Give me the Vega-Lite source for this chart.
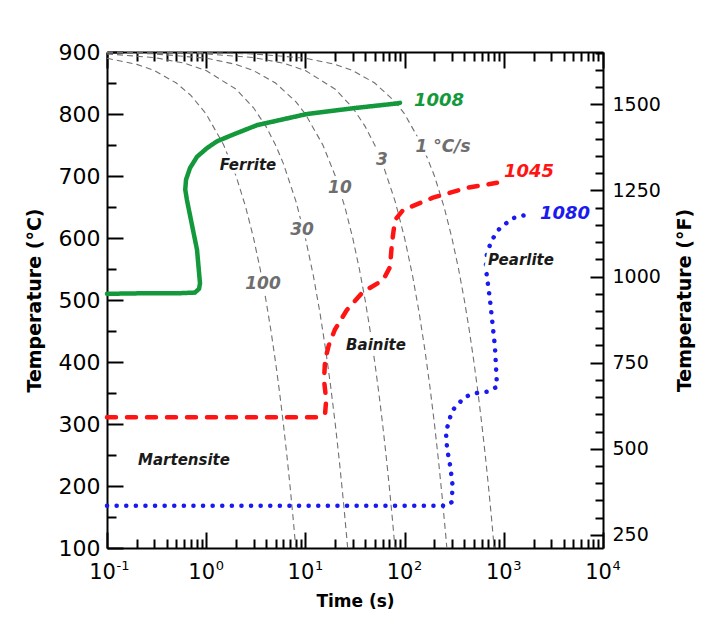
{
  "$schema": "https://vega.github.io/schema/vega-lite/v6.json",
  "width": 496,
  "height": 496,
  "autosize": {"type": "none"},
  "padding": {"left": 107, "top": 52, "right": 101, "bottom": 77},
  "background": "white",
  "config": {
    "view": {"stroke": null},
    "font": "DejaVu Sans",
    "axis": {"domainColor": "black", "domainWidth": 2, "tickColor": "black", "tickWidth": 2, "labelColor": "black", "titleColor": "black", "grid": false, "labelFont": "DejaVu Sans", "titleFont": "DejaVu Sans"}
  },
  "datasets": {
    "cooling": [
      {"rate": "100", "t": 0.1, "T": 890}, {"rate": "100", "t": 0.2, "T": 880}, {"rate": "100", "t": 0.3, "T": 870}, {"rate": "100", "t": 0.5, "T": 850}, {"rate": "100", "t": 0.7, "T": 830}, {"rate": "100", "t": 1, "T": 800}, {"rate": "100", "t": 1.5, "T": 750}, {"rate": "100", "t": 2, "T": 700}, {"rate": "100", "t": 2.5, "T": 650}, {"rate": "100", "t": 3, "T": 600}, {"rate": "100", "t": 3.5, "T": 550}, {"rate": "100", "t": 4, "T": 500}, {"rate": "100", "t": 4.5, "T": 450}, {"rate": "100", "t": 5, "T": 400}, {"rate": "100", "t": 5.5, "T": 350}, {"rate": "100", "t": 6, "T": 300}, {"rate": "100", "t": 6.5, "T": 250}, {"rate": "100", "t": 7, "T": 200}, {"rate": "100", "t": 7.5, "T": 150}, {"rate": "100", "t": 8, "T": 100},
      {"rate": "30", "t": 0.1, "T": 897}, {"rate": "30", "t": 0.3, "T": 891}, {"rate": "30", "t": 0.6, "T": 882}, {"rate": "30", "t": 1, "T": 870}, {"rate": "30", "t": 2, "T": 840}, {"rate": "30", "t": 3, "T": 810}, {"rate": "30", "t": 4, "T": 780}, {"rate": "30", "t": 5, "T": 750}, {"rate": "30", "t": 6, "T": 720}, {"rate": "30", "t": 8, "T": 660}, {"rate": "30", "t": 10, "T": 600}, {"rate": "30", "t": 12, "T": 540}, {"rate": "30", "t": 14, "T": 480}, {"rate": "30", "t": 16, "T": 420}, {"rate": "30", "t": 18, "T": 360}, {"rate": "30", "t": 20, "T": 300}, {"rate": "30", "t": 22, "T": 240}, {"rate": "30", "t": 24, "T": 180}, {"rate": "30", "t": 26, "T": 120}, {"rate": "30", "t": 26.67, "T": 100},
      {"rate": "10", "t": 0.1, "T": 899}, {"rate": "10", "t": 0.3, "T": 897}, {"rate": "10", "t": 1, "T": 890}, {"rate": "10", "t": 2, "T": 880}, {"rate": "10", "t": 3, "T": 870}, {"rate": "10", "t": 5, "T": 850}, {"rate": "10", "t": 8, "T": 820}, {"rate": "10", "t": 10, "T": 800}, {"rate": "10", "t": 15, "T": 750}, {"rate": "10", "t": 20, "T": 700}, {"rate": "10", "t": 25, "T": 650}, {"rate": "10", "t": 30, "T": 600}, {"rate": "10", "t": 35, "T": 550}, {"rate": "10", "t": 40, "T": 500}, {"rate": "10", "t": 45, "T": 450}, {"rate": "10", "t": 50, "T": 400}, {"rate": "10", "t": 55, "T": 350}, {"rate": "10", "t": 60, "T": 300}, {"rate": "10", "t": 65, "T": 250}, {"rate": "10", "t": 70, "T": 200}, {"rate": "10", "t": 75, "T": 150}, {"rate": "10", "t": 80, "T": 100},
      {"rate": "3", "t": 0.1, "T": 899.7}, {"rate": "3", "t": 1, "T": 897}, {"rate": "3", "t": 3, "T": 891}, {"rate": "3", "t": 6, "T": 882}, {"rate": "3", "t": 10, "T": 870}, {"rate": "3", "t": 20, "T": 840}, {"rate": "3", "t": 30, "T": 810}, {"rate": "3", "t": 40, "T": 780}, {"rate": "3", "t": 50, "T": 750}, {"rate": "3", "t": 60, "T": 720}, {"rate": "3", "t": 80, "T": 660}, {"rate": "3", "t": 100, "T": 600}, {"rate": "3", "t": 120, "T": 540}, {"rate": "3", "t": 140, "T": 480}, {"rate": "3", "t": 160, "T": 420}, {"rate": "3", "t": 180, "T": 360}, {"rate": "3", "t": 200, "T": 300}, {"rate": "3", "t": 220, "T": 240}, {"rate": "3", "t": 240, "T": 180}, {"rate": "3", "t": 260, "T": 120}, {"rate": "3", "t": 266.7, "T": 100},
      {"rate": "1", "t": 0.1, "T": 899.9}, {"rate": "1", "t": 1, "T": 899}, {"rate": "1", "t": 3, "T": 897}, {"rate": "1", "t": 10, "T": 890}, {"rate": "1", "t": 20, "T": 880}, {"rate": "1", "t": 30, "T": 870}, {"rate": "1", "t": 50, "T": 850}, {"rate": "1", "t": 80, "T": 820}, {"rate": "1", "t": 100, "T": 800}, {"rate": "1", "t": 150, "T": 750}, {"rate": "1", "t": 200, "T": 700}, {"rate": "1", "t": 250, "T": 650}, {"rate": "1", "t": 300, "T": 600}, {"rate": "1", "t": 350, "T": 550}, {"rate": "1", "t": 400, "T": 500}, {"rate": "1", "t": 450, "T": 450}, {"rate": "1", "t": 500, "T": 400}, {"rate": "1", "t": 550, "T": 350}, {"rate": "1", "t": 600, "T": 300}, {"rate": "1", "t": 650, "T": 250}, {"rate": "1", "t": 700, "T": 200}, {"rate": "1", "t": 750, "T": 150}, {"rate": "1", "t": 800, "T": 100}
    ],
    "cct": [
      {"steel": "1008", "i": 1, "t": 0.1, "T": 510}, {"steel": "1008", "i": 2, "t": 0.271, "T": 511}, {"steel": "1008", "i": 3, "t": 0.55, "T": 511}, {"steel": "1008", "i": 4, "t": 0.77, "T": 512}, {"steel": "1008", "i": 5, "t": 0.847, "T": 518}, {"steel": "1008", "i": 6, "t": 0.866, "T": 527}, {"steel": "1008", "i": 7, "t": 0.808, "T": 581}, {"steel": "1008", "i": 8, "t": 0.64, "T": 661}, {"steel": "1008", "i": 9, "t": 0.615, "T": 678}, {"steel": "1008", "i": 10, "t": 0.626, "T": 694}, {"steel": "1008", "i": 11, "t": 0.687, "T": 713}, {"steel": "1008", "i": 12, "t": 0.808, "T": 731}, {"steel": "1008", "i": 13, "t": 1.019, "T": 745}, {"steel": "1008", "i": 14, "t": 1.285, "T": 756}, {"steel": "1008", "i": 15, "t": 1.95, "T": 768}, {"steel": "1008", "i": 16, "t": 3.25, "T": 782}, {"steel": "1008", "i": 17, "t": 10.4, "T": 800}, {"steel": "1008", "i": 18, "t": 33.1, "T": 810}, {"steel": "1008", "i": 19, "t": 83.8, "T": 817}, {"steel": "1008", "i": 20, "t": 89.9, "T": 818},
      {"steel": "1045", "i": 1, "t": 0.1, "T": 311}, {"steel": "1045", "i": 2, "t": 5, "T": 311}, {"steel": "1045", "i": 3, "t": 14, "T": 311}, {"steel": "1045", "i": 4, "t": 15.8, "T": 317}, {"steel": "1045", "i": 5, "t": 16.2, "T": 339}, {"steel": "1045", "i": 6, "t": 15.4, "T": 371}, {"steel": "1045", "i": 7, "t": 15.8, "T": 403}, {"steel": "1045", "i": 8, "t": 17.2, "T": 427}, {"steel": "1045", "i": 9, "t": 19.8, "T": 452}, {"steel": "1045", "i": 10, "t": 26.2, "T": 484}, {"steel": "1045", "i": 11, "t": 38, "T": 513}, {"steel": "1045", "i": 12, "t": 60.6, "T": 532}, {"steel": "1045", "i": 13, "t": 71.2, "T": 553}, {"steel": "1045", "i": 14, "t": 74.6, "T": 592}, {"steel": "1045", "i": 15, "t": 80, "T": 629}, {"steel": "1045", "i": 16, "t": 96.3, "T": 645}, {"steel": "1045", "i": 17, "t": 193, "T": 665}, {"steel": "1045", "i": 18, "t": 425, "T": 681}, {"steel": "1045", "i": 19, "t": 854, "T": 689},
      {"steel": "1080", "i": 1, "t": 0.1, "T": 168}, {"steel": "1080", "i": 2, "t": 10, "T": 168}, {"steel": "1080", "i": 3, "t": 100, "T": 168}, {"steel": "1080", "i": 4, "t": 270, "T": 168}, {"steel": "1080", "i": 5, "t": 298, "T": 174}, {"steel": "1080", "i": 6, "t": 305, "T": 200}, {"steel": "1080", "i": 7, "t": 290, "T": 230}, {"steel": "1080", "i": 8, "t": 268, "T": 260}, {"steel": "1080", "i": 9, "t": 261, "T": 287}, {"steel": "1080", "i": 10, "t": 300, "T": 321}, {"steel": "1080", "i": 11, "t": 406, "T": 344}, {"steel": "1080", "i": 12, "t": 537, "T": 350}, {"steel": "1080", "i": 13, "t": 677, "T": 352}, {"steel": "1080", "i": 14, "t": 854, "T": 360}, {"steel": "1080", "i": 15, "t": 815, "T": 424}, {"steel": "1080", "i": 16, "t": 726, "T": 500}, {"steel": "1080", "i": 17, "t": 657, "T": 553}, {"steel": "1080", "i": 18, "t": 677, "T": 576}, {"steel": "1080", "i": 19, "t": 760, "T": 597}, {"steel": "1080", "i": 20, "t": 912, "T": 616}, {"steel": "1080", "i": 21, "t": 1239, "T": 632}, {"steel": "1080", "i": 22, "t": 1637, "T": 637}
    ],
    "labels": [
      {"text": "Ferrite", "kind": "phase", "t": 2.64, "T": 718},
      {"text": "Bainite", "kind": "phase", "t": 51.5, "T": 427},
      {"text": "Pearlite", "kind": "phase", "t": 1489, "T": 565},
      {"text": "Martensite", "kind": "phase", "t": 0.597, "T": 242},
      {"text": "100", "kind": "rate", "t": 3.74, "T": 526},
      {"text": "30", "kind": "rate", "t": 9.25, "T": 613},
      {"text": "10", "kind": "rate", "t": 22.3, "T": 681},
      {"text": "3", "kind": "rate", "t": 59.2, "T": 726},
      {"text": "1 °C/s", "kind": "rate", "t": 244, "T": 747},
      {"text": "1008", "kind": "steel", "t": 222, "T": 821},
      {"text": "1045", "kind": "steel", "t": 1795, "T": 706},
      {"text": "1080", "kind": "steel", "t": 4140, "T": 639}
    ],
    "fahrenheit": [{"t": 0.1, "F": 212}, {"t": 10000, "F": 1652}]
  },
  "layer": [
    {
      "layer": [
        {
          "data": {"name": "cooling"},
          "mark": {"type": "line", "color": "#707070", "strokeWidth": 1.1, "strokeDash": [6, 4]},
          "encoding": {
            "x": {"field": "t", "type": "quantitative", "scale": {"type": "log", "domain": [0.1, 10000], "nice": false},
              "axis": {"orient": "bottom", "title": "Time (s)", "titleFontSize": 17, "titleFontWeight": "bold", "titlePadding": 4,
                "values": [0.1,0.2,0.3,0.4,0.5,0.6,0.7,0.8,0.9,1,2,3,4,5,6,7,8,9,10,20,30,40,50,60,70,80,90,100,200,300,400,500,600,700,800,900,1000,2000,3000,4000,5000,6000,7000,8000,9000,10000],
                "labelExpr": "abs(log(datum.value)/LN10 - round(log(datum.value)/LN10)) < 0.01 ? '10' : ''",
                "labelFontSize": 21, "labelOffset": -5, "labelPadding": 29, "labelOverlap": false, "labelFlush": false, "labelBound": false,
                "tickSize": {"condition": {"test": "abs(log(datum.value)/LN10 - round(log(datum.value)/LN10)) < 0.01", "value": -16}, "value": -9}}},
            "y": {"field": "T", "type": "quantitative", "scale": {"domain": [100, 900], "nice": false, "zero": false},
              "axis": {"orient": "left", "title": "Temperature (°C)", "titleFontSize": 19, "titleFontWeight": "bold", "titlePadding": 14,
                "values": [100,150,200,250,300,350,400,450,500,550,600,650,700,750,800,850,900],
                "labelExpr": "datum.value % 100 == 0 ? datum.label : ''",
                "labelFontSize": 22, "labelPadding": 23, "labelOverlap": false, "labelFlush": false, "labelBound": false,
                "tickSize": {"condition": {"test": "datum.value % 100 == 0", "value": -16}, "value": -9}}},
            "detail": {"field": "rate"}
          }
        },
        {
          "data": {"name": "cct"},
          "mark": {"type": "line", "strokeWidth": 4.5, "strokeCap": "round", "strokeJoin": "round"},
          "encoding": {
            "x": {"field": "t", "type": "quantitative", "scale": {"type": "log", "domain": [0.1, 10000], "nice": false},
              "axis": {"orient": "bottom", "title": null, "domain": false, "ticks": false, "tickSize": 0,
                "values": [0.1, 1, 10, 100, 1000, 10000],
                "labelExpr": "'' + round(log(datum.value)/LN10)",
                "labelFontSize": 13, "labelAlign": "left", "labelOffset": 9, "labelPadding": 11, "labelOverlap": false, "labelFlush": false, "labelBound": false}},
            "y": {"field": "T", "type": "quantitative", "scale": {"domain": [100, 900], "nice": false, "zero": false}, "axis": null},
            "order": {"field": "i", "type": "quantitative"},
            "color": {"field": "steel", "type": "nominal", "scale": {"domain": ["1008", "1045", "1080"], "range": ["#13993b", "#ff1414", "#1a1af0"]}, "legend": null},
            "strokeDash": {"field": "steel", "type": "nominal", "scale": {"domain": ["1008", "1045", "1080"], "range": [[1, 0], [9, 11], [0.1, 9.5]]}, "legend": null}
          }
        },
        {
          "data": {"name": "labels"},
          "transform": [{"filter": "datum.kind == 'phase'"}],
          "mark": {"type": "text", "fontSize": 15, "fontWeight": "bold", "fontStyle": "italic", "stroke": "white", "strokeWidth": 7, "fill": "white", "align": "center", "baseline": "middle"},
          "encoding": {
            "x": {"field": "t", "type": "quantitative", "scale": {"type": "log", "domain": [0.1, 10000], "nice": false}, "axis": null},
            "y": {"field": "T", "type": "quantitative", "scale": {"domain": [100, 900], "nice": false, "zero": false}, "axis": null},
            "text": {"field": "text"}
          }
        },
        {
          "data": {"name": "labels"},
          "transform": [{"filter": "datum.kind == 'rate'"}],
          "mark": {"type": "text", "fontSize": 17, "fontWeight": "bold", "fontStyle": "italic", "stroke": "white", "strokeWidth": 7, "fill": "white", "align": "center", "baseline": "middle"},
          "encoding": {
            "x": {"field": "t", "type": "quantitative", "scale": {"type": "log", "domain": [0.1, 10000], "nice": false}, "axis": null},
            "y": {"field": "T", "type": "quantitative", "scale": {"domain": [100, 900], "nice": false, "zero": false}, "axis": null},
            "text": {"field": "text"}
          }
        },
        {
          "data": {"name": "labels"},
          "transform": [{"filter": "datum.kind == 'phase'"}],
          "mark": {"type": "text", "fontSize": 15, "fontWeight": "bold", "fontStyle": "italic", "color": "#1a1a1a", "align": "center", "baseline": "middle"},
          "encoding": {
            "x": {"field": "t", "type": "quantitative", "scale": {"type": "log", "domain": [0.1, 10000], "nice": false},
              "axis": {"orient": "top", "title": null, "labels": false,
                "values": [0.1,0.2,0.3,0.4,0.5,0.6,0.7,0.8,0.9,1,2,3,4,5,6,7,8,9,10,20,30,40,50,60,70,80,90,100,200,300,400,500,600,700,800,900,1000,2000,3000,4000,5000,6000,7000,8000,9000,10000],
                "tickSize": {"condition": {"test": "abs(log(datum.value)/LN10 - round(log(datum.value)/LN10)) < 0.01", "value": -16}, "value": -9}}},
            "y": {"field": "T", "type": "quantitative", "scale": {"domain": [100, 900], "nice": false, "zero": false}, "axis": null},
            "text": {"field": "text"}
          }
        },
        {
          "data": {"name": "labels"},
          "transform": [{"filter": "datum.kind == 'rate'"}],
          "mark": {"type": "text", "fontSize": 17, "fontWeight": "bold", "fontStyle": "italic", "color": "#6e6e6e", "align": "center", "baseline": "middle"},
          "encoding": {
            "x": {"field": "t", "type": "quantitative", "scale": {"type": "log", "domain": [0.1, 10000], "nice": false}, "axis": null},
            "y": {"field": "T", "type": "quantitative", "scale": {"domain": [100, 900], "nice": false, "zero": false}, "axis": null},
            "text": {"field": "text"}
          }
        },
        {
          "data": {"name": "labels"},
          "transform": [{"filter": "datum.kind == 'steel'"}],
          "mark": {"type": "text", "fontSize": 18, "fontWeight": "bold", "fontStyle": "italic", "align": "center", "baseline": "middle"},
          "encoding": {
            "x": {"field": "t", "type": "quantitative", "scale": {"type": "log", "domain": [0.1, 10000], "nice": false}, "axis": null},
            "y": {"field": "T", "type": "quantitative", "scale": {"domain": [100, 900], "nice": false, "zero": false}, "axis": null},
            "text": {"field": "text"},
            "color": {"field": "text", "type": "nominal", "scale": {"domain": ["1008", "1045", "1080"], "range": ["#13993b", "#ff1414", "#1a1af0"]}, "legend": null}
          }
        }
      ],
      "resolve": {"axis": {"x": "independent", "y": "independent"}}
    },
    {
      "data": {"name": "fahrenheit"},
      "mark": {"type": "point", "opacity": 0},
      "encoding": {
        "x": {"field": "t", "type": "quantitative", "scale": {"type": "log", "domain": [0.1, 10000], "nice": false}, "axis": null},
        "y": {"field": "F", "type": "quantitative", "scale": {"domain": [212, 1652], "nice": false, "zero": false},
          "axis": {"orient": "right", "title": "Temperature (°F)", "titleAngle": 270, "titleBaseline": "top", "titleFontSize": 19, "titleFontWeight": "bold", "titlePadding": 15,
            "values": [250,300,350,400,450,500,550,600,650,700,750,800,850,900,950,1000,1050,1100,1150,1200,1250,1300,1350,1400,1450,1500,1550,1600,1650],
            "format": "d",
            "labelExpr": "datum.value % 250 == 0 ? datum.label : ''",
            "labelFontSize": 19, "labelPadding": 22, "labelOverlap": false, "labelFlush": false, "labelBound": false,
            "tickSize": {"condition": {"test": "datum.value % 250 == 0", "value": -13}, "value": -8}}}
      }
    }
  ],
  "resolve": {"scale": {"y": "independent"}, "axis": {"x": "independent", "y": "independent"}}
}
